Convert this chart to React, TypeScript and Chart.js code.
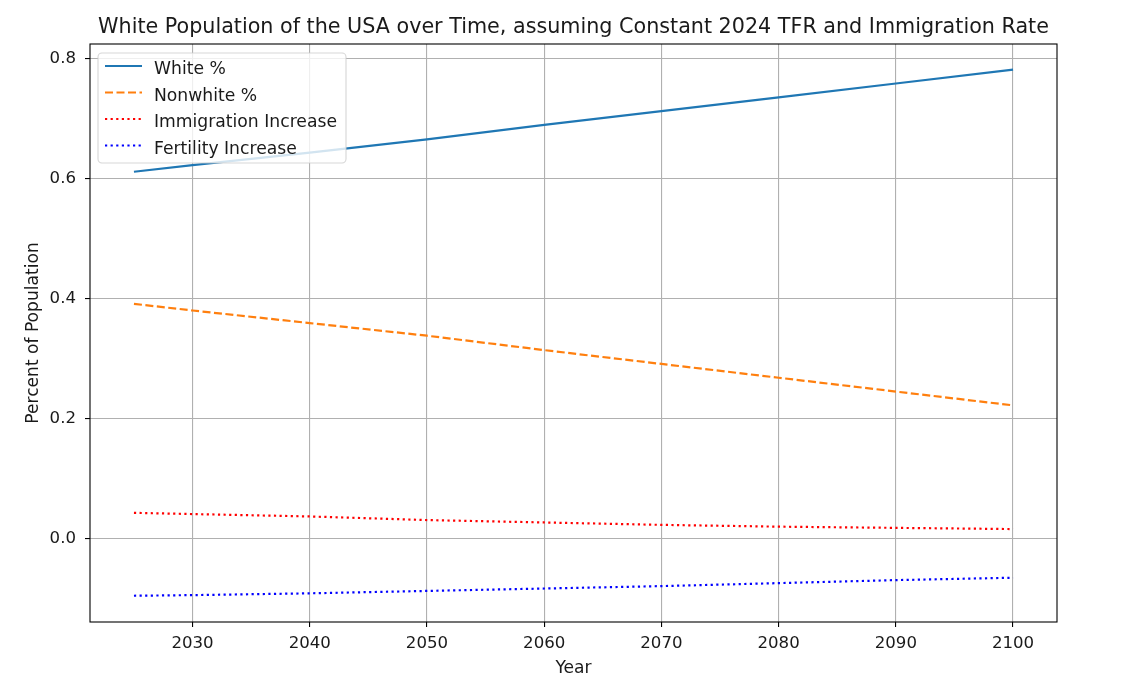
import React, { useEffect, useRef } from 'react';
import { Chart, registerables, Plugin } from 'chart.js';

Chart.register(...registerables);

const years = [2025, 2030, 2040, 2050, 2060, 2070, 2080, 2090, 2100];
const whiteShare = [0.611, 0.622, 0.643, 0.665, 0.689, 0.712, 0.735, 0.758, 0.781];
const nonwhiteShare = [0.391, 0.38, 0.359, 0.338, 0.314, 0.291, 0.268, 0.245, 0.222];
const immigrationIncrease = [0.043, 0.041, 0.037, 0.031, 0.027, 0.023, 0.02, 0.018, 0.016];
const fertilityIncrease = [-0.095, -0.094, -0.091, -0.087, -0.083, -0.079, -0.074, -0.069, -0.065];

const xTicks = [2030, 2040, 2050, 2060, 2070, 2080, 2090, 2100];
const yTicks = [0.0, 0.2, 0.4, 0.6, 0.8];

const titleText = 'White Population of the USA over Time, assuming Constant 2024 TFR and Immigration Rate';
const xTitle = 'Year';
const yTitle = 'Percent of Population';

const FONT = '"DejaVu Sans", sans-serif';
const TEXT = '#1a1a1a';

const toPoints = (vals: number[]) => vals.map((v, i) => ({ x: years[i], y: v }));

// matplotlib-ish decorations: frame, title, axis labels, legend
const decorations: Plugin<'line'> = {
  id: 'decorations',
  afterDatasetsDraw(chart) {
    const { ctx, chartArea: a } = chart;
    ctx.save();

    // frame
    ctx.strokeStyle = '#000';
    ctx.lineWidth = 1.1;
    ctx.strokeRect(a.left, a.top, a.right - a.left, a.bottom - a.top);

    // titles
    ctx.fillStyle = TEXT;
    ctx.textAlign = 'center';
    ctx.textBaseline = 'alphabetic';
    ctx.font = `20.7px ${FONT}`;
    ctx.fillText(titleText, (a.left + a.right) / 2, 32.5);
    ctx.font = `17.1px ${FONT}`;
    ctx.fillText(xTitle, (a.left + a.right) / 2, 672.5);
    ctx.save();
    ctx.translate(37.5, (a.top + a.bottom) / 2);
    ctx.rotate(-Math.PI / 2);
    ctx.fillText(yTitle, 0, 0);
    ctx.restore();

    // legend
    const bx = 98, by = 53, bw = 248, bh = 110, r = 4;
    ctx.beginPath();
    ctx.roundRect(bx, by, bw, bh, r);
    ctx.fillStyle = 'rgba(255,255,255,0.8)';
    ctx.fill();
    ctx.strokeStyle = 'rgba(204,204,204,0.8)';
    ctx.lineWidth = 1.1;
    ctx.stroke();

    ctx.textAlign = 'left';
    ctx.font = `17.2px ${FONT}`;
    chart.data.datasets.forEach((ds: any, i: number) => {
      const cy = 66 + i * 26.5;
      ctx.beginPath();
      ctx.setLineDash(ds.borderDash || []);
      ctx.lineCap = 'butt';
      ctx.strokeStyle = ds.borderColor;
      ctx.lineWidth = ds.borderWidth;
      ctx.moveTo(105, cy);
      ctx.lineTo(142, cy);
      ctx.stroke();
      ctx.setLineDash([]);
      ctx.fillStyle = TEXT;
      ctx.fillText(ds.label, 154, cy + 8);
    });

    ctx.restore();
  },
};

const App: React.FC = () => {
  const canvasRef = useRef<HTMLCanvasElement | null>(null);

  useEffect(() => {
    if (!canvasRef.current) return;
    const chart = new Chart(canvasRef.current, {
      type: 'line',
      data: {
        datasets: [
          {
            label: 'White %',
            data: toPoints(whiteShare),
            borderColor: '#1f77b4',
            borderWidth: 2.2,
          },
          {
            label: 'Nonwhite %',
            data: toPoints(nonwhiteShare),
            borderColor: '#ff7f0e',
            borderWidth: 2.2,
            borderDash: [8, 3.5],
          },
          {
            label: 'Immigration Increase',
            data: toPoints(immigrationIncrease),
            borderColor: '#ff0000',
            borderWidth: 2.2,
            borderDash: [2.2, 3.4],
          },
          {
            label: 'Fertility Increase',
            data: toPoints(fertilityIncrease),
            borderColor: '#0000ff',
            borderWidth: 2.2,
            borderDash: [2.2, 3.4],
          },
        ],
      },
      options: {
        animation: false,
        responsive: true,
        maintainAspectRatio: false,
        layout: { padding: { top: 44, right: 77, left: 0, bottom: 0 } },
        elements: {
          point: { radius: 0 },
          line: { tension: 0, borderCapStyle: 'butt' },
        },
        plugins: {
          legend: { display: false },
          tooltip: { enabled: false },
          title: { display: false },
        },
        scales: {
          x: {
            type: 'linear',
            min: 2021.25,
            max: 2103.75,
            afterFit: (s: any) => {
              s.height = 61;
            },
            afterBuildTicks: (s: any) => {
              s.ticks = xTicks.map((v) => ({ value: v }));
            },
            grid: {
              color: '#b0b0b0',
              lineWidth: 1.1,
              tickColor: '#000',
              tickLength: 5,
              tickWidth: 1.1,
            },
            border: { display: false },
            ticks: {
              color: TEXT,
              font: { family: FONT, size: 16.6 },
              padding: 7,
              maxRotation: 0,
              callback: (v: any) => String(v),
            },
          },
          y: {
            type: 'linear',
            min: -0.13875,
            max: 0.82375,
            afterFit: (s: any) => {
              s.width = 90;
            },
            afterBuildTicks: (s: any) => {
              s.ticks = yTicks.map((v) => ({ value: v }));
            },
            grid: {
              color: '#b0b0b0',
              lineWidth: 1.1,
              tickColor: '#000',
              tickLength: 5,
              tickWidth: 1.1,
            },
            border: { display: false },
            ticks: {
              color: TEXT,
              font: { family: FONT, size: 16.6 },
              padding: 9,
              callback: (v: any) => Number(v).toFixed(1),
            },
          },
        },
      },
      plugins: [decorations],
    });

    return () => {
      chart.destroy();
    };
  }, []);

  return (
    <div style={{ position: 'fixed', left: 0, top: 0, width: 1134, height: 683, background: '#fff' }}>
      <canvas ref={canvasRef}></canvas>
    </div>
  );
};

export default App;
